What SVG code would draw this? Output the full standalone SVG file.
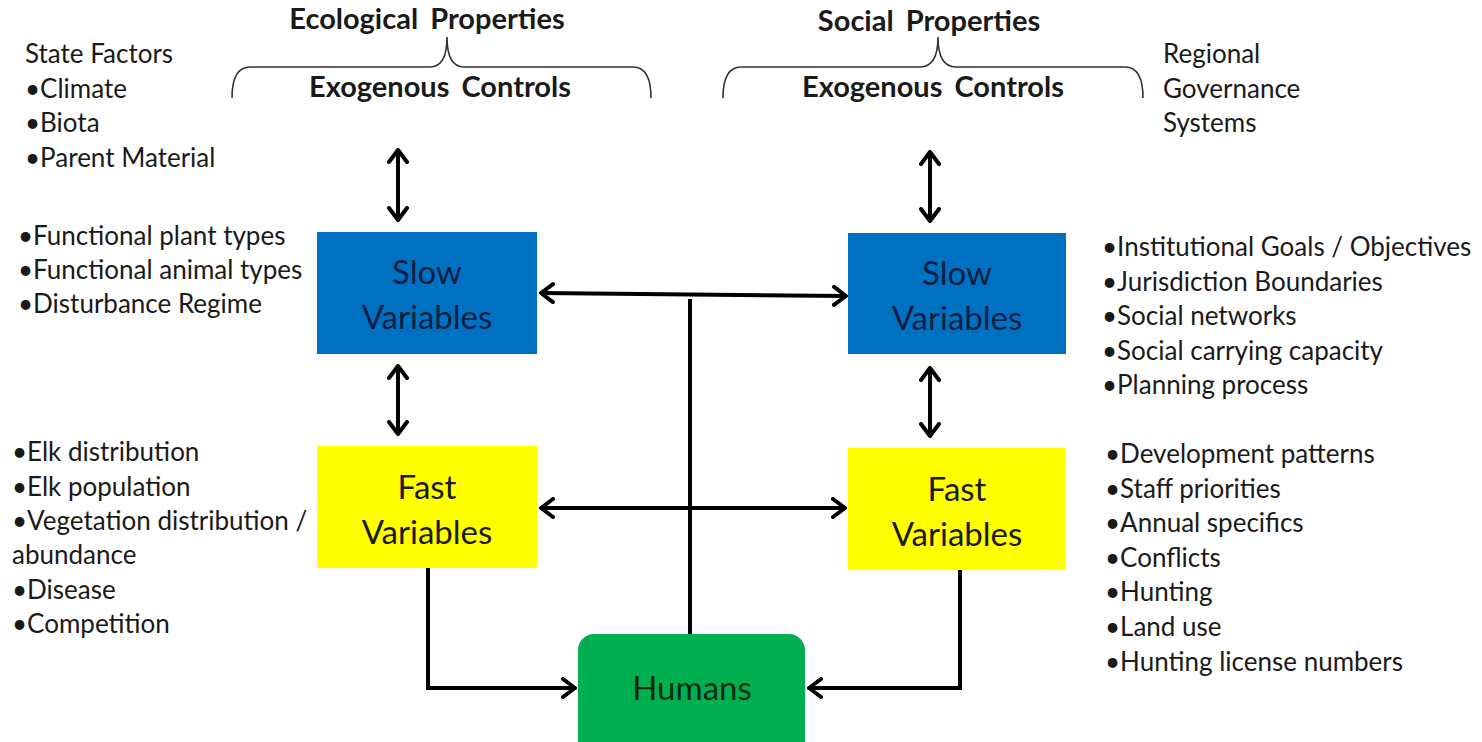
<svg xmlns="http://www.w3.org/2000/svg" width="1482" height="742" viewBox="0 0 1482 742">
  <style>
    text { font-family: Lato, "Open Sans", sans-serif; fill: #1a1a1a; }
    .head { font-size: 29px; font-weight: bold; text-anchor: middle; word-spacing: 5px; }
    .list { font-size: 26px; }
    .box { font-size: 33px; text-anchor: middle; }
    .navy { fill: #0b1f45; }
    .slow { fill: #0070c0; }
    .fast { fill: #ffff00; }
    .hum { fill: #00b050; }
    .brace { fill: none; stroke: #333; stroke-width: 1.6; }
    .conn { fill: none; stroke: #000; stroke-width: 4; }
  </style>
  <defs>
    <marker id="arr" viewBox="0 0 16 22" refX="14" refY="11" markerWidth="16" markerHeight="22" markerUnits="userSpaceOnUse" orient="auto-start-reverse">
      <path d="M2,2 L14,11 L2,20" fill="none" stroke="#000" stroke-width="4" stroke-linecap="round" stroke-linejoin="round"/>
    </marker>
  </defs>

  <rect width="1482" height="742" fill="#fff"/>

  <!-- ecological side header -->
  <g id="eco-header">
    <text class="head" x="427" y="29">Ecological Properties</text>
    <path class="brace" d="M232,98 Q232,67 250,67 L430,67 Q447,67 447,37 Q447,67 464,67 L633,67 Q651,67 651,98"/>
    <text class="head" x="440" y="97">Exogenous Controls</text>
  </g>

  <!-- social side header -->
  <g id="soc-header">
    <text class="head" x="929" y="31">Social Properties</text>
    <path class="brace" d="M723,98 Q723,67 741,67 L920,67 Q938,67 938,37 Q938,67 956,67 L1125,67 Q1143,67 1143,98"/>
    <text class="head" x="933" y="97">Exogenous Controls</text>
  </g>

  <!-- side lists -->
  <g id="state-factors" class="list">
    <text x="25" y="63">State Factors</text>
    <text x="25" y="98">•Climate</text>
    <text x="25" y="132">•Biota</text>
    <text x="25" y="167">•Parent Material</text>
  </g>
  <g id="eco-slow-list" class="list">
    <text x="18" y="245">•Functional plant types</text>
    <text x="18" y="279">•Functional animal types</text>
    <text x="18" y="313">•Disturbance Regime</text>
  </g>
  <g id="eco-fast-list" class="list">
    <text x="12" y="461">•Elk distribution</text>
    <text x="12" y="496">•Elk population</text>
    <text x="12" y="530">•Vegetation distribution /</text>
    <text x="12" y="564">abundance</text>
    <text x="12" y="599">•Disease</text>
    <text x="12" y="633">•Competition</text>
  </g>
  <g id="governance" class="list">
    <text x="1163" y="63">Regional</text>
    <text x="1163" y="98">Governance</text>
    <text x="1163" y="132">Systems</text>
  </g>
  <g id="soc-slow-list" class="list">
    <text x="1102" y="256">•Institutional Goals / Objectives</text>
    <text x="1102" y="291">•Jurisdiction Boundaries</text>
    <text x="1102" y="325">•Social networks</text>
    <text x="1102" y="360">•Social carrying capacity</text>
    <text x="1102" y="394">•Planning process</text>
  </g>
  <g id="soc-fast-list" class="list">
    <text x="1105" y="463">•Development patterns</text>
    <text x="1105" y="498">•Staff priorities</text>
    <text x="1105" y="532">•Annual specifics</text>
    <text x="1105" y="567">•Conflicts</text>
    <text x="1105" y="601">•Hunting</text>
    <text x="1105" y="636">•Land use</text>
    <text x="1105" y="671">•Hunting license numbers</text>
  </g>

  <!-- connectors -->
  <g id="connectors" class="conn">
    <line x1="398" y1="150" x2="398" y2="220" marker-start="url(#arr)" marker-end="url(#arr)"/>
    <line x1="398" y1="366" x2="398" y2="434" marker-start="url(#arr)" marker-end="url(#arr)"/>
    <line x1="930" y1="152" x2="930" y2="221" marker-start="url(#arr)" marker-end="url(#arr)"/>
    <line x1="930" y1="368" x2="930" y2="436" marker-start="url(#arr)" marker-end="url(#arr)"/>
    <line x1="541" y1="293" x2="846" y2="296" marker-start="url(#arr)" marker-end="url(#arr)"/>
    <line x1="541" y1="508" x2="845" y2="508" marker-start="url(#arr)" marker-end="url(#arr)"/>
    <line x1="690" y1="299" x2="690" y2="634"/>
    <polyline points="428,568 428,688 575,688" marker-end="url(#arr)"/>
    <polyline points="960,570 960,688 809,688" marker-end="url(#arr)"/>
  </g>

  <!-- nodes -->
  <g id="eco-slow">
    <rect class="slow" x="317" y="232" width="220" height="122"/>
    <text class="box navy" x="427" y="284">Slow</text>
    <text class="box navy" x="427" y="329">Variables</text>
  </g>
  <g id="soc-slow">
    <rect class="slow" x="848" y="233" width="218" height="121"/>
    <text class="box navy" x="957" y="285">Slow</text>
    <text class="box navy" x="957" y="330">Variables</text>
  </g>
  <g id="eco-fast">
    <rect class="fast" x="317" y="446" width="220" height="122"/>
    <text class="box" x="427" y="499">Fast</text>
    <text class="box" x="427" y="544">Variables</text>
  </g>
  <g id="soc-fast">
    <rect class="fast" x="848" y="448" width="218" height="122"/>
    <text class="box" x="957" y="501">Fast</text>
    <text class="box" x="957" y="546">Variables</text>
  </g>
  <g id="humans">
    <rect class="hum" x="578" y="634" width="227" height="125" rx="16"/>
    <text class="box" x="692" y="700" style="fill:#0a2a12">Humans</text>
  </g>
</svg>
